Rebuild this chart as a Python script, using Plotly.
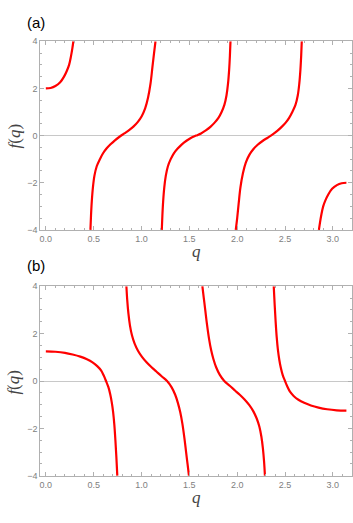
import plotly.graph_objects as go
from plotly.subplots import make_subplots

# panel (a) branches
qa1 = [0.0, 0.05, 0.1, 0.15, 0.19, 0.22, 0.243, 0.262, 0.277, 0.288]
fa1 = [2.0, 2.02, 2.1, 2.26, 2.5, 2.75, 3.0, 3.35, 3.7, 4.0]
qa2 = [0.466, 0.472, 0.480, 0.492, 0.508, 0.532, 0.565, 0.598, 0.634, 0.676, 0.722, 0.770,
       0.820, 0.870, 0.918, 0.962, 1.002, 1.038, 1.068, 1.094, 1.114, 1.131, 1.146]
fa2 = [-4.0, -3.4, -2.8, -2.2, -1.7, -1.3, -1.0, -0.75, -0.55, -0.37, -0.2, -0.05,
       0.09, 0.23, 0.39, 0.58, 0.82, 1.15, 1.6, 2.2, 2.9, 3.5, 4.0]
qa3 = [1.212, 1.218, 1.226, 1.238, 1.254, 1.276, 1.305, 1.338, 1.378, 1.422, 1.470, 1.520, 1.571,
       1.622, 1.672, 1.720, 1.764, 1.804, 1.837, 1.866, 1.888, 1.904, 1.916, 1.924, 1.930]
fa3 = [-4.0, -3.4, -2.8, -2.2, -1.7, -1.3, -1.0, -0.75, -0.55, -0.37, -0.22, -0.09, 0.0,
       0.09, 0.22, 0.37, 0.55, 0.75, 1.0, 1.3, 1.7, 2.2, 2.8, 3.4, 4.0]
qa4 = [1.985, 2.000, 2.015, 2.034, 2.060, 2.090, 2.127, 2.168, 2.214, 2.265, 2.318,
       2.371, 2.419, 2.465, 2.507, 2.543, 2.576, 2.609, 2.633, 2.649, 2.661, 2.669, 2.675]
fa4 = [-4.0, -3.5, -2.9, -2.2, -1.6, -1.15, -0.82, -0.58, -0.39, -0.23, -0.09,
       0.05, 0.2, 0.37, 0.55, 0.75, 1.0, 1.3, 1.7, 2.2, 2.8, 3.4, 4.0]
qa5 = [2.854, 2.865, 2.880, 2.899, 2.922, 2.952, 2.992, 3.042, 3.092, 3.1416]
fa5 = [-4.0, -3.7, -3.35, -3.0, -2.75, -2.5, -2.26, -2.1, -2.02, -2.0]

# panel (b) branches
qb1 = [0.0, 0.1, 0.2, 0.28, 0.36, 0.43, 0.488, 0.537, 0.577, 0.604, 0.629, 0.653,
       0.673, 0.689, 0.703, 0.716, 0.727, 0.737, 0.747]
fb1 = [1.25, 1.235, 1.19, 1.12, 1.03, 0.92, 0.79, 0.63, 0.45, 0.24, 0.0, -0.25,
       -0.56, -0.9, -1.3, -1.85, -2.5, -3.2, -4.0]
qb2 = [0.842, 0.851, 0.863, 0.879, 0.900, 0.928, 0.963, 1.005, 1.055, 1.105, 1.155,
       1.210, 1.267, 1.315, 1.352, 1.380, 1.405, 1.427, 1.448, 1.466, 1.481, 1.496]
fb2 = [4.0, 3.4, 2.85, 2.35, 1.93, 1.58, 1.28, 1.02, 0.78, 0.58, 0.4,
       0.2, 0.0, -0.27, -0.58, -0.92, -1.32, -1.8, -2.4, -3.0, -3.5, -4.0]
qb3 = [1.636, 1.651, 1.666, 1.684, 1.705, 1.727, 1.752, 1.780, 1.817, 1.865, 1.922,
       1.977, 2.027, 2.077, 2.127, 2.169, 2.204, 2.232, 2.253, 2.269, 2.281, 2.290]
fb3 = [4.0, 3.5, 3.0, 2.4, 1.8, 1.32, 0.92, 0.58, 0.27, 0.0, -0.2,
       -0.4, -0.58, -0.78, -1.02, -1.28, -1.58, -1.93, -2.35, -2.85, -3.4, -4.0]
qb4 = [2.382, 2.392, 2.402, 2.413, 2.426, 2.440, 2.456, 2.476, 2.500, 2.525, 2.552,
       2.590, 2.640, 2.700, 2.770, 2.850, 2.940, 3.040, 3.1416]
fb4 = [4.0, 3.2, 2.5, 1.85, 1.3, 0.9, 0.56, 0.25, 0.0, -0.24, -0.45,
       -0.63, -0.79, -0.92, -1.03, -1.12, -1.19, -1.235, -1.25]

panel_a = [(qa1, fa1), (qa2, fa2), (qa3, fa3), (qa4, fa4), (qa5, fa5)]
panel_b = [(qb1, fb1), (qb2, fb2), (qb3, fb3), (qb4, fb4)]

fig = make_subplots(rows=2, cols=1)

for row, branches in [(1, panel_a), (2, panel_b)]:
    for q, f in branches:
        fig.add_trace(go.Scatter(x=q, y=f, mode="lines",
                                 line=dict(color="#ff0000", width=2.2, shape="spline", smoothing=1.0),
                                 showlegend=False, hoverinfo="skip"),
                      row=row, col=1)

frame = "#b0b0b0"
axis_common = dict(showline=True, linecolor=frame, linewidth=1, mirror="ticks",
                   ticks="inside", ticklen=4, tickcolor=frame, tickwidth=1,
                   showgrid=False,
                   tickfont=dict(family="Liberation Sans", size=9, color="#808080"))

fig.update_xaxes(range=[-0.057, 3.195], dtick=0.5, tick0=0, tickformat=".1f", zeroline=False,
                 minor=dict(dtick=0.1, ticks="inside", ticklen=2, tickcolor=frame),
                 **axis_common)
fig.update_yaxes(range=[-4, 4], dtick=2, tick0=0, zeroline=True, zerolinecolor="#c8c8c8",
                 zerolinewidth=1,
                 minor=dict(dtick=0.5, ticks="inside", ticklen=2, tickcolor=frame),
                 **axis_common)

fig.update_layout(
    width=353, height=523,
    margin=dict(l=0, r=0, t=0, b=0),
    plot_bgcolor="white", paper_bgcolor="white",
    xaxis=dict(domain=[0.1119, 0.9958]),
    xaxis2=dict(domain=[0.1119, 0.9958]),
    yaxis=dict(domain=[0.5616, 0.9293]),
    yaxis2=dict(domain=[0.0822, 0.4518]),
)

serif = dict(family="Liberation Serif", size=17, color="#444444")
labels = [
    dict(x=0.10, y=1 - 18 / 523, yanchor="middle", text="(a)",
         font=dict(family="Liberation Sans", size=15, color="#000000")),
    dict(x=0.10, y=1 - 266 / 523, yanchor="middle", text="(b)",
         font=dict(family="Liberation Sans", size=15, color="#000000")),
    dict(x=0.555, y=1 - 240 / 523, yanchor="top", text="<i>q</i>", font=serif),
    dict(x=0.555, y=1 - 490 / 523, yanchor="top", text="<i>q</i>", font=serif),
]
for lab in labels:
    fig.add_annotation(xref="paper", yref="paper", xanchor="center",
                       showarrow=False, **lab)
for yc in [1 - 133 / 523, 1 - 384 / 523]:
    fig.add_annotation(xref="paper", yref="paper", x=13 / 353, y=yc, xanchor="center",
                       yanchor="middle", showarrow=False, textangle=-90,
                       text="<i>f</i>(<i>q</i>)", font=serif)

fig.write_html("out.html", config={"displayModeBar": False},
               post_script="document.body.style.margin='0';")
